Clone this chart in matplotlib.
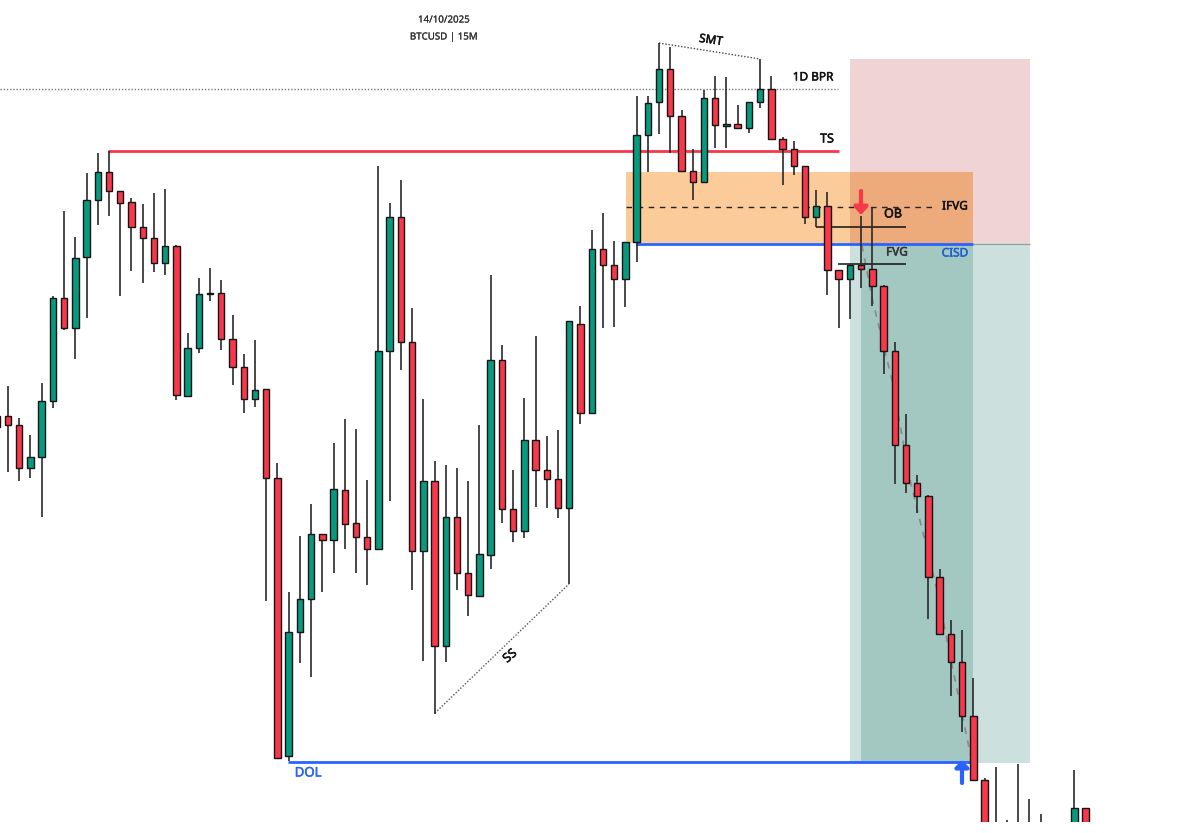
import matplotlib
matplotlib.use("Agg")
import matplotlib.pyplot as plt
import matplotlib.patheffects as pe
import numpy as np

plt.rcParams['font.family'] = ['Noto Sans', 'DejaVu Sans']

idx = list(range(-1, 93)) + [95, 96]
opens = [416, 416.3,425,467.7,456.7,401,298,327.7,257,200,171.7,191.3,202.3,227.3,238.3,263.3,246,396,348,293,293.3,338.7,367.3,399.3,389.3,
         477.9,756,631.8,599,533.7,539.6,489.8,523.4,536.5,549,350.6,217,341.5,550.7,480.7,646,517,572.5,595.8,554.7,360,509,531,440,470.4,479,
         507.6,323.7,413,249.3,265.3,278.7,242.3,134.7,102.3,68.7,116,170.7,182,98.3,126,124.3,127.7,102.3,89.3,138.7,149,166.3,217.3,206.3,270.3,278.7,265.3,
         268.7,285.7,351.4,444.6,483,496.3,576.9,633.7,661.6,715.6,780.3,832,832,832,832,832,832,807.5]
closes = [427,424.7,467.7,457,401.3,298,328,257.7,200,172,191,202.7,227.3,238.3,263.3,246,395.3,348.3,294.3,294,338.7,367.3,399.3,390.3,477.9,
          758.4,631.8,599,533.7,539.6,489,523.8,536.5,549,350.6,217,341.5,550.7,480.7,646,517,572.5,595.4,553.9,360,509,531,440,470.4,479,507.6,
          321.3,413,249.3,265.3,278.7,242.3,134.7,103.3,68.7,116,170.7,182,98.3,125.3,124.3,127.7,102.3,89,138.7,149,166.3,217.3,206.3,270.3,278.7,265.3,268.7,
          285.7,351.4,444.6,483,496.3,576.9,633.7,661.6,715.6,780.3,840,845,845,845,845,845,807.5,845]
highs = [416,386,418,435,383,296,211,237,173,152.7,150.7,191,198,204,193,189,245,332.7,277.7,268,280,315,353.7,340.3,389.3,
         462.5,591.9,536,504,533.7,443,419,429,479.5,165.8,203.4,179.7,308,399,461,465,468.4,481,424.5,275.4,345,470.4,398,335.9,436.4,429.7,
         321,305.5,229.5,213,241.3,242.3,96,96,42.7,47.3,110.3,149.3,90,76,76.7,105.3,102.3,59.3,76,137.3,141,166.3,190,192.3,270.3,265.3,216,206.7,
         284.7,342,413.6,474.5,494.6,568.7,620.4,630,678,778,766.7,819.7,764.3,799,814,770.4,807.5]
lows = [427,472,481,478,517,408,330,359,318,225,215.7,295.7,271,283,272,274.7,399.7,396,353.3,301,350,384.7,413.3,407.3,601,
        758.4,761,662.7,676.9,592,573,548.7,573,585,549,500.9,369.5,589.9,660.7,713.7,661.9,589.9,616,595.8,569,523,542.4,538,507.2,508,517.9,
        584.3,424,413,328,326.7,307.3,261.7,171.7,134,153.3,170.7,200,182,147.7,148.3,127.7,133.3,108,138.7,184.7,175.3,223.7,226.7,295,328.3,319.3,288.3,306,
        374,483.7,492.9,513.3,619,633.7,695.6,732,780.3,845,845,845,845,845,845,845,845]

red = '#F7374A'
green = '#089A7E'
blue = '#2962FF'

idx, opens, closes, highs, lows = [np.array(a, float) for a in (idx, opens, closes, highs, lows)]

fig = plt.figure(figsize=(12, 8.33), dpi=100)
ax = fig.add_axes([0, 1 - 822 / 833, 1, 822 / 833])
ax.set_axis_off()
step = 11.225
def X(px):
    return (px - 8) / step
ax.set_xlim(X(0), X(1200))
ax.set_ylim(822, 0)

# zones
def zone(x0, x1, y0, y1, col, a):
    ax.fill_between([X(x0), X(x1)], y0, y1, color=col, alpha=a, lw=0, zorder=1)
zone(850, 1030, 59, 243, '#B4232D', 0.2)
zone(850, 1030, 243, 763, '#006455', 0.2)
zone(861, 973, 243, 763, '#006455', 0.2)
zone(626, 973, 172, 243, '#F57D02', 0.4)
zone(850, 973, 172, 243, '#800000', 0.03)

# projected path
ax.plot([X(v) for v in (862, 872, 892, 910, 937, 953, 972)], [245, 298, 380, 480, 590, 670, 762],
        color='#8a8a8a', lw=1.2, ls=(0, (4, 4)), zorder=2)

# candles
ax.vlines(idx, highs, lows, color='#2a2a2a', lw=1.2, zorder=3)
cols = [green if c < o else red for o, c in zip(opens, closes)]
ax.bar(idx, closes - opens, bottom=opens, width=6.4 / step, color=cols, edgecolor='#141414', lw=1.0, zorder=4)

# levels
ax.hlines(89, X(0), X(838), color='#777777', lw=1, ls=(0, (1, 1.3)), zorder=2)
ax.hlines(150.5, X(108), X(839), color=red, lw=2, zorder=2.5)
ax.hlines(243.5, X(636), X(973), color=blue, lw=2, zorder=2.5)
ax.hlines(243.5, X(973), X(1030), color='#999999', lw=0.8, zorder=2)
ax.hlines(761.5, X(288), X(973), color=blue, lw=2, zorder=2.5)
ax.hlines(207, X(626), X(937), color='#222222', lw=1, ls=(0, (4, 4)), zorder=2.5)
ax.hlines(226.5, X(816), X(906), color='#111111', lw=1.1, zorder=2.5)
ax.hlines(263.5, X(838), X(906), color='#111111', lw=1.1, zorder=2.5)
ax.plot([X(659), X(760)], [43, 59], color='#444444', lw=1, ls=(0, (1, 1.3)), zorder=2)
ax.plot([X(435), X(569)], [713, 584], color='#555555', lw=1, ls=(0, (1, 1.3)), zorder=2)

# arrows
ax.annotate('', xy=(X(861), 215), xytext=(X(861), 191),
            arrowprops=dict(arrowstyle='-|>,head_width=0.4,head_length=0.45', color=red, lw=3, shrinkA=0, shrinkB=0), zorder=6)
ax.annotate('', xy=(X(962), 760), xytext=(X(962), 783),
            arrowprops=dict(arrowstyle='-|>,head_width=0.4,head_length=0.4', color=blue, lw=3, shrinkA=0, shrinkB=0), zorder=6)

# labels
def lab(x, y, s, size=8.5, color='#111111', sw=0.35, **kw):
    t = ax.text(X(x), y, s, ha='center', va='center', fontsize=size, color=color, zorder=7, **kw)
    t.set_path_effects([pe.withStroke(linewidth=sw, foreground=color)])
lab(444, 20, '14/10/2025', size=7, color='#333333', sw=0.15)
lab(444, 37, 'BTCUSD | 15M', size=7, color='#333333', sw=0.15)
lab(813, 77, '1D BPR')
lab(827, 139, 'TS', size=9)
lab(711, 40, 'SMT', rotation=-8)
lab(955, 206, 'IFVG')
lab(893, 214, 'OB', size=9)
lab(897, 252, 'FVG', color='#333333')
lab(955, 253, 'CISD', color='#1F5FD0')
lab(308, 773, 'DOL', color=blue, size=9.5)
lab(510, 656, 'SS', rotation=40, size=9)

fig.savefig('out.png', dpi=100)
